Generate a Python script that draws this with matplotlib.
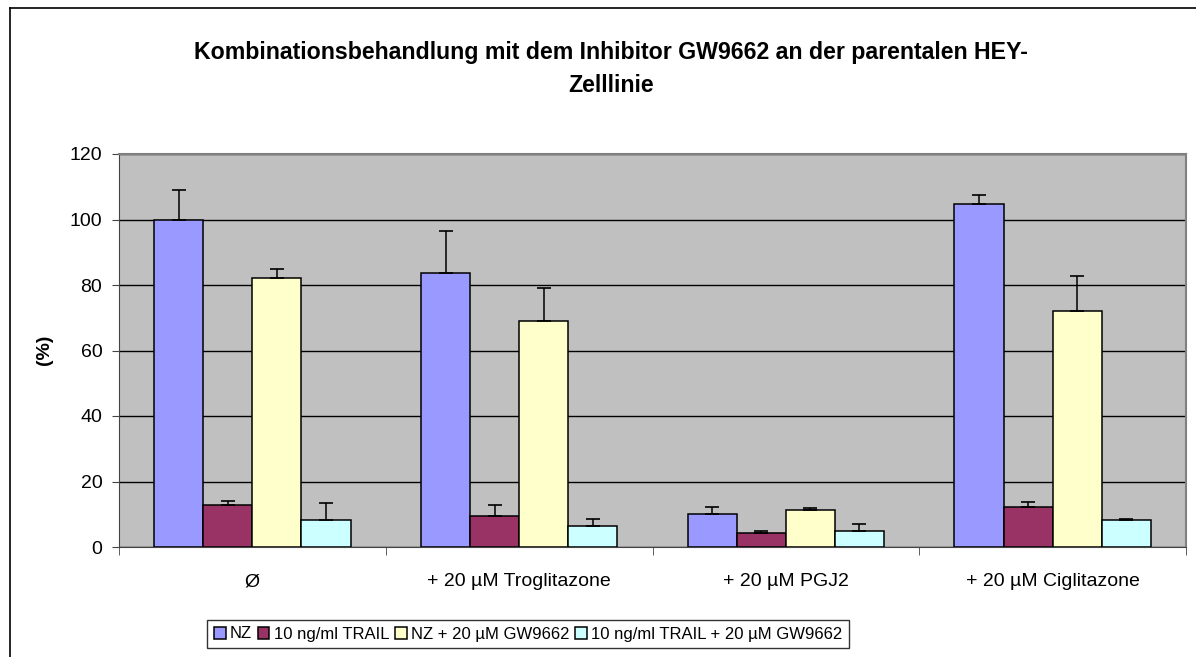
import numpy as np
import matplotlib.pyplot as plt
from matplotlib.lines import Line2D

plt.rcParams.update({
    'font.family': ['Liberation Sans', 'DejaVu Sans'],
    'font.size': 14,
})

# Daten
categories = ['Ø', '+ 20 µM Troglitazone', '+ 20 µM PGJ2', '+ 20 µM Ciglitazone']
series = ['NZ', '10 ng/ml TRAIL', 'NZ + 20 µM GW9662', '10 ng/ml TRAIL + 20 µM GW9662']
nz = [100.0, 83.8, 10.2, 104.8]
nz_err = [9.0, 12.7, 2.1, 2.7]
trail = [12.7, 9.6, 4.4, 12.2]
trail_err = [1.2, 3.2, 0.6, 1.6]
nz_gw = [82.2, 69.0, 11.2, 72.2]
nz_gw_err = [2.8, 10.2, 0.6, 10.5]
trail_gw = [8.2, 6.5, 5.0, 8.2]
trail_gw_err = [5.3, 2.0, 2.0, 0.4]

colors = ['#9999FF', '#993366', '#FFFFCC', '#CCFFFF']

fig = plt.figure(figsize=(11.96, 6.57), dpi=100)
ax = fig.add_axes([119 / 1196, 110 / 657, 1067 / 1196, 393 / 657])
ax.set_facecolor('#C0C0C0')

x = np.arange(len(categories))
w = 0.184
data = [(nz, nz_err), (trail, trail_err), (nz_gw, nz_gw_err), (trail_gw, trail_gw_err)]
for i, ((vals, errs), col, lab) in enumerate(zip(data, colors, series)):
    pos = x + (i - 1.5) * w
    ax.bar(pos, vals, w, color=col, edgecolor='black', linewidth=1.1,
           label=lab, zorder=3)
    ax.errorbar(pos, vals, yerr=[np.zeros(len(errs)), errs], fmt='none',
                ecolor='black', elinewidth=1.1, capsize=4.7, capthick=1.2,
                zorder=4)

ax.set_xlim(-0.5, len(categories) - 0.5)
ax.set_ylim(0, 120)
ax.set_yticks(np.arange(0, 121, 20))
ax.yaxis.grid(True, color='black', linewidth=1.0, zorder=1)
ax.set_axisbelow(True)

ax.set_xticks(x)
ax.set_xticklabels(categories, fontsize=14)
ax.tick_params(axis='x', which='major', length=0, pad=19)
ax.set_xticks(np.arange(-0.5, len(categories), 1.0), minor=True)
ax.tick_params(axis='x', which='minor', length=6, direction='out', color='#444444')
ax.tick_params(axis='y', length=5, direction='out', color='#444444', labelsize=14, pad=7)

for side in ['top', 'right']:
    ax.spines[side].set_color('#808080')
    ax.spines[side].set_linewidth(1.5)
ax.spines['left'].set_color('#444444')
ax.spines['bottom'].set_color('#444444')

fig.text(45 / 1196, 1 - 350 / 657, '(%)', rotation=90, fontsize=14,
         fontweight='bold', ha='center', va='center')

fig.text(611 / 1196, 1 - 52 / 657,
         'Kombinationsbehandlung mit dem Inhibitor GW9662 an der parentalen HEY-',
         fontsize=16.7, fontweight='bold', ha='center', va='center')
fig.text(611 / 1196, 1 - 85 / 657, 'Zelllinie',
         fontsize=16.7, fontweight='bold', ha='center', va='center')

leg = fig.legend(loc='center', bbox_to_anchor=(528 / 1196, 1 - 634 / 657),
                 ncol=4, frameon=True, fancybox=False, fontsize=12,
                 handlelength=0.7, handleheight=0.7, handletextpad=0.25,
                 columnspacing=0.35, borderpad=0.4, edgecolor='black')
leg.get_frame().set_linewidth(1.0)

# Rahmen um das Diagramm
fig.add_artist(Line2D([10 / 1196, 10 / 1196], [0, 1 - 8 / 657],
                      color='black', linewidth=1.2, transform=fig.transFigure))
fig.add_artist(Line2D([10 / 1196, 1], [1 - 8 / 657, 1 - 8 / 657],
                      color='black', linewidth=1.2, transform=fig.transFigure))

fig.savefig('out.png', dpi=100, facecolor='white')
